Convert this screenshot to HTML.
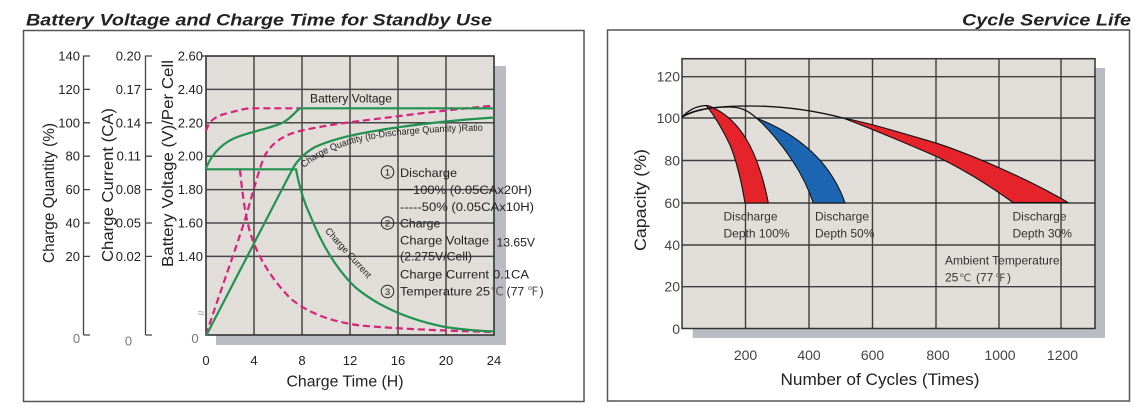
<!DOCTYPE html>
<html><head><meta charset="utf-8"><style>
html,body{margin:0;padding:0;background:#fff;}
svg{display:block;}
text{font-family:"Liberation Sans",sans-serif;}
</style></head><body>
<svg width="1144" height="414" viewBox="0 0 1144 414" xmlns="http://www.w3.org/2000/svg">
<rect width="1144" height="414" fill="#fff"/>
<!-- titles -->
<text x="26" y="25.5" font-size="17" font-weight="bold" font-style="italic" fill="#222" textLength="466" lengthAdjust="spacingAndGlyphs">Battery Voltage and Charge Time for Standby Use</text>
<text x="1131" y="25.5" font-size="17" font-weight="bold" font-style="italic" fill="#222" text-anchor="end" textLength="169" lengthAdjust="spacingAndGlyphs">Cycle Service Life</text>
<!-- frames -->
<rect x="23.5" y="30.5" width="560.5" height="371" fill="none" stroke="#555" stroke-width="1.5"/>
<rect x="607.5" y="30" width="522" height="371" fill="none" stroke="#555" stroke-width="1.5"/>

<!-- ========== LEFT CHART ========== -->
<rect x="216" y="66" width="290" height="279" fill="#b9bcc2"/>
<rect x="206" y="56" width="288" height="279" fill="#e1ddd8"/>
<g stroke="#474747" stroke-width="1.5">
<line x1="254" y1="56" x2="254" y2="335"/>
<line x1="302" y1="56" x2="302" y2="335"/>
<line x1="350" y1="56" x2="350" y2="335"/>
<line x1="398" y1="56" x2="398" y2="335"/>
<line x1="446" y1="56" x2="446" y2="335"/>
<line x1="206" y1="89.4" x2="494" y2="89.4"/>
<line x1="206" y1="122.8" x2="494" y2="122.8"/>
<line x1="206" y1="156.2" x2="494" y2="156.2"/>
<line x1="206" y1="189.6" x2="494" y2="189.6"/>
<line x1="206" y1="223" x2="494" y2="223"/>
<line x1="206" y1="256.4" x2="494" y2="256.4"/>
</g>
<rect x="206" y="56" width="288" height="279" fill="none" stroke="#333" stroke-width="1.6"/>
<text x="201" y="317" font-size="12" fill="#999" text-anchor="middle">≈</text>

<!-- left axes -->
<g stroke="#444" stroke-width="1.3" fill="none">
<line x1="83.5" y1="55.5" x2="83.5" y2="335"/>
<line x1="145.5" y1="55.5" x2="145.5" y2="335"/>
<path d="M83.5,56H90M83.5,89.4H90M83.5,122.8H90M83.5,156.2H90M83.5,189.6H90M83.5,223H90M83.5,256.4H90M83.5,335H90"/>
<path d="M145.5,56H152M145.5,89.4H152M145.5,122.8H152M145.5,156.2H152M145.5,189.6H152M145.5,223H152M145.5,256.4H152M145.5,335H152"/>
<path d="M201,56H206"/>
</g>
<g font-size="13" fill="#222" text-anchor="end">
<text x="80" y="60.5">140</text><text x="80" y="93.9">120</text><text x="80" y="127.3">100</text>
<text x="80" y="160.7">80</text><text x="80" y="194.1">60</text><text x="80" y="227.5">40</text><text x="80" y="260.9">20</text>
<text x="141" y="60.5">0.20</text><text x="141" y="93.9">0.17</text><text x="141" y="127.3">0.14</text>
<text x="141" y="160.7">0.11</text><text x="141" y="194.1">0.08</text><text x="141" y="227.5">0.05</text><text x="141" y="260.9">0.02</text>
<text x="203" y="60.5">2.60</text><text x="203" y="93.9">2.40</text><text x="203" y="127.3">2.20</text>
<text x="203" y="160.7">2.00</text><text x="203" y="194.1">1.80</text><text x="203" y="227.5">1.60</text><text x="203" y="260.9">1.40</text>
</g>
<g font-size="13" fill="#777" text-anchor="middle">
<text x="76.5" y="343">0</text><text x="128.5" y="345.5">0</text><text x="195" y="343">0</text>
</g>
<g font-size="15.5" fill="#222" text-anchor="middle">
<text transform="translate(54,193) rotate(-90)" textLength="140" lengthAdjust="spacingAndGlyphs">Charge Quantity (%)</text>
<text transform="translate(113,185) rotate(-90)" textLength="154" lengthAdjust="spacingAndGlyphs">Charge Current (CA)</text>
<text transform="translate(173,163.5) rotate(-90)" textLength="207" lengthAdjust="spacingAndGlyphs">Battery Voltage (V)/Per Cell</text>
</g>
<g font-size="13" fill="#222" text-anchor="middle">
<text x="206" y="365">0</text><text x="254" y="365">4</text><text x="302" y="365">8</text>
<text x="350" y="365">12</text><text x="398" y="365">16</text><text x="446" y="365">20</text><text x="494" y="365">24</text>
</g>
<text x="345" y="386.5" font-size="15.5" fill="#222" text-anchor="middle" textLength="117" lengthAdjust="spacingAndGlyphs">Charge Time (H)</text>

<!-- curves -->
<g fill="none" stroke="#d6247c" stroke-width="2.2" stroke-dasharray="7,4">
<path d="M206,131 C209,120 216,116 228,113 C238,110.5 244,108.5 252,108.3 L300,108.3"/>
<path d="M206,335 C214,310 230,265 240,235 C248,212 256,178 264,157 C272,142 284,135 300,131 C330,124 360,121 400,116 C430,112 460,109 494,105.5"/>
<path d="M240,170 C242,190 245,215 250,232 C256,252 268,275 290,298 C310,315 335,322 360,325.5 C400,329 450,331 494,332"/>
</g>
<g fill="none" stroke="#21924f" stroke-width="2.2">
<path d="M206,168 C212,154 222,142 240,136 C258,130 275,127 284,122 C292,117 296,111 300,108.3 L494,108.3"/>
<path d="M206,169.3 L296,169.3 C299,185 303,200 310,215 C320,240 335,268 355,287 C380,308 410,320 445,327 C465,330 480,331 494,331.5"/>
<path d="M206.5,335 L292,170 C296,162 303,154 315,147 C335,138 360,133 390,128.5 C420,124 455,120 494,117.5"/>
</g>

<!-- annotations -->
<text x="310" y="102.7" font-size="12" fill="#222" textLength="82" lengthAdjust="spacingAndGlyphs">Battery Voltage</text>
<path id="cq" d="M304,168 C326,149 360,139 400,135 C430,132 460,131 490,130.5" fill="none"/>
<text font-size="9.5" fill="#222"><textPath href="#cq" textLength="186" lengthAdjust="spacingAndGlyphs">Charge Quantity (to-Discharge Quantity )Ratio</textPath></text>
<text transform="translate(346,255) rotate(48)" font-size="9.5" fill="#222" text-anchor="middle" textLength="64" lengthAdjust="spacingAndGlyphs">Charge Current</text>

<g fill="none" stroke="#222" stroke-width="1">
<circle cx="387.5" cy="172" r="6.3"/>
<circle cx="387.5" cy="223" r="6.3"/>
<circle cx="387.5" cy="291.5" r="6.3"/>
</g>
<g font-size="9.5" fill="#222" text-anchor="middle">
<text x="387.5" y="175.5">1</text><text x="387.5" y="226.5">2</text><text x="387.5" y="295">3</text>
</g>
<g font-size="12.3" fill="#222">
<text x="400" y="177" textLength="57" lengthAdjust="spacingAndGlyphs">Discharge</text>
<line x1="400" y1="189.5" x2="413" y2="189.5" stroke="#222" stroke-width="1.1"/>
<text x="413" y="194" textLength="119" lengthAdjust="spacingAndGlyphs">100% (0.05CAx20H)</text>
<text x="400" y="211" textLength="134" lengthAdjust="spacingAndGlyphs">-----50% (0.05CAx10H)</text>
<text x="400" y="227.3">Charge</text>
<text x="400" y="244.3" textLength="89" lengthAdjust="spacingAndGlyphs">Charge Voltage</text>
<text x="496.5" y="246.7" font-size="11.5" textLength="38.5" lengthAdjust="spacingAndGlyphs">13.65V</text>
<text x="400" y="260.7" textLength="72" lengthAdjust="spacingAndGlyphs">(2.275V/Cell)</text>
<text x="400" y="278.3" textLength="89" lengthAdjust="spacingAndGlyphs">Charge Current</text>
<text x="493" y="278.3" textLength="36" lengthAdjust="spacingAndGlyphs">0.1CA</text>
<text x="400" y="295.7" textLength="90" lengthAdjust="spacingAndGlyphs">Temperature 25</text>
<text x="490.5" y="295.7" font-family="'Noto Serif CJK SC',serif" font-size="12" fill="#555">℃</text>
<text x="506.5" y="295.7">(77</text>
<text x="527" y="295.7" font-family="'Noto Serif CJK SC',serif" font-size="12" fill="#555">℉</text>
<text x="539.5" y="295.7">)</text>
</g>

<!-- ========== RIGHT CHART ========== -->
<rect x="692.7" y="68" width="412.3" height="270" fill="#b9bcc2"/>
<rect x="682" y="58.7" width="413" height="269.8" fill="#e1ddd8"/>
<g stroke="#3e3e3e" stroke-width="1.4">
<line x1="745.5" y1="58.7" x2="745.5" y2="328.5"/>
<line x1="809" y1="58.7" x2="809" y2="328.5"/>
<line x1="872.5" y1="58.7" x2="872.5" y2="328.5"/>
<line x1="936" y1="58.7" x2="936" y2="328.5"/>
<line x1="999" y1="58.7" x2="999" y2="328.5"/>
<line x1="1061" y1="58.7" x2="1061" y2="328.5"/>
<line x1="682" y1="76.7" x2="1095" y2="76.7"/>
<line x1="682" y1="118" x2="1095" y2="118"/>
<line x1="682" y1="160.5" x2="1095" y2="160.5"/>
<line x1="682" y1="203" x2="1095" y2="203"/>
<line x1="682" y1="245" x2="1095" y2="245"/>
<line x1="682" y1="286.7" x2="1095" y2="286.7"/>
</g>
<rect x="682" y="58.7" width="413" height="269.8" fill="none" stroke="#333" stroke-width="1.5"/>

<!-- bands -->
<g stroke="#111" stroke-width="1.1" stroke-linejoin="round">
<path fill="#e5232b" d="M706,105.5 C712,112 722,128 730,145 C737,162 742,185 745,203 L768.3,203 C764,180 756,155 746.7,140 C738,125 725,112 708,105.5 Z"/>
<path fill="#1c65b3" d="M756.7,118.3 C768,128 782,145 792,160 C802,175 809,190 813.3,203 L845,203 C840,188 830,170 816,156 C800,140 780,127 756.7,118.3 Z"/>
<path fill="#e5232b" d="M843,118 C870,123 905,134 937,143.3 C975,156 1030,180 1068,202.5 L1013,202.5 C990,186 965,170 937,156.7 C910,145 875,130 843,118 Z"/>
</g>
<g fill="none" stroke="#111" stroke-width="1.3">
<path d="M682,117 C688,111 695,106 706,105.5"/>
<path d="M682,117 C695,110 712,107 730,107 C742,107 750,112 756.7,118.3"/>
<path d="M682,117 C695,108 720,106 750,106 C790,106 820,112 843,118"/>
</g>

<g font-size="14" fill="#444" text-anchor="end">
<text x="680" y="81.5">120</text><text x="680" y="123">100</text><text x="680" y="165.5">80</text>
<text x="680" y="208">60</text><text x="680" y="250">40</text><text x="680" y="291.7">20</text><text x="680" y="334">0</text>
</g>
<g font-size="14" fill="#444" text-anchor="middle">
<text x="745.5" y="360">200</text><text x="809" y="360">400</text><text x="872.5" y="360">600</text>
<text x="938" y="360">800</text><text x="1000" y="360">1000</text><text x="1062.5" y="360">1200</text>
</g>
<text x="880" y="385" font-size="16.5" fill="#222" text-anchor="middle" textLength="199" lengthAdjust="spacingAndGlyphs">Number of Cycles (Times)</text>
<text transform="translate(646,200) rotate(-90)" font-size="16.5" fill="#222" text-anchor="middle" textLength="102" lengthAdjust="spacingAndGlyphs">Capacity (%)</text>

<g font-size="12" fill="#333">
<text x="723.5" y="220.7">Discharge</text><text x="723.5" y="237.7">Depth 100%</text>
<text x="815" y="220.7">Discharge</text><text x="815" y="237.7">Depth 50%</text>
<text x="1012.5" y="220.7">Discharge</text><text x="1012.5" y="237.7">Depth 30%</text>
<text x="945" y="264.5">Ambient Temperature:</text>
<text x="945" y="281.5">25</text>
<text x="959" y="281.5" font-family="'Noto Serif CJK SC',serif" font-size="11" fill="#555">℃</text>
<text x="976" y="281.5">(77</text>
<text x="995" y="281.5" font-family="'Noto Serif CJK SC',serif" font-size="11" fill="#555">℉</text>
<text x="1007" y="281.5">)</text>
</g>
</svg>
</body></html>
